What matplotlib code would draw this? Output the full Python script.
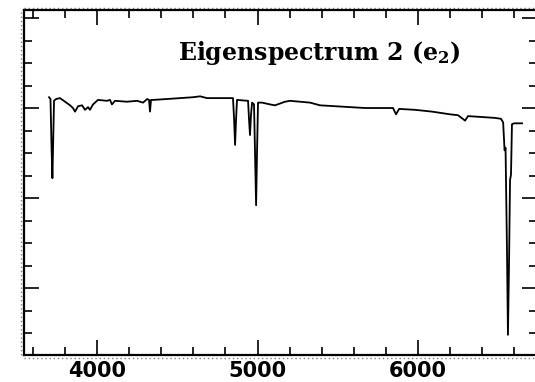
import numpy as np
import matplotlib
matplotlib.use("Agg")
import matplotlib.pyplot as plt
from matplotlib.ticker import MultipleLocator, NullFormatter
from matplotlib.lines import Line2D

# wavelength (Angstrom) and eigenspectrum flux
wave = [3701, 3710, 3717, 3722, 3727, 3732, 3745, 3769, 3801, 3832,
        3850, 3863, 3882, 3907, 3925, 3944, 3956, 3975, 4006, 4062,
        4081, 4093, 4112, 4187, 4249, 4287, 4312, 4324, 4330, 4336,
        4349, 4436, 4517, 4598, 4642, 4685, 4766, 4847, 4854, 4860,
        4866, 4872, 4941, 4947, 4953, 4959, 4966, 4978, 4984, 4991,
        4997, 5003, 5028, 5078, 5109, 5171, 5202, 5265, 5327, 5389,
        5483, 5576, 5670, 5763, 5844, 5863, 5882, 5981, 6087, 6199,
        6249, 6293, 6311, 6399, 6480, 6517, 6530, 6539, 6545, 6554,
        6560, 6567, 6573, 6579, 6585, 6598, 6648]
flux = [0.212, 0.210, 0.153, 0.122, 0.164, 0.208, 0.210, 0.211, 0.207, 0.203,
        0.200, 0.196, 0.202, 0.203, 0.198, 0.201, 0.198, 0.204, 0.209, 0.208,
        0.209, 0.204, 0.208, 0.207, 0.208, 0.206, 0.210, 0.209, 0.196, 0.209,
        0.209, 0.210, 0.211, 0.212, 0.213, 0.211, 0.211, 0.211, 0.187, 0.159,
        0.187, 0.209, 0.208, 0.187, 0.170, 0.192, 0.206, 0.204, 0.153, 0.092,
        0.153, 0.206, 0.206, 0.204, 0.203, 0.207, 0.208, 0.207, 0.206, 0.203,
        0.202, 0.201, 0.200, 0.200, 0.200, 0.193, 0.199, 0.198, 0.196, 0.193,
        0.192, 0.186, 0.191, 0.190, 0.189, 0.188, 0.184, 0.153, 0.156, 0.042,
        -0.052, 0.031, 0.120, 0.126, 0.182, 0.183, 0.183]

xticks = [4000, 5000, 6000]

plt.rcParams['mathtext.fontset'] = 'dejavuserif'

fig = plt.figure(figsize=(5.35, 3.82), dpi=100)
# right edge of the frame falls just outside the picture, as in the scan
ax = fig.add_axes([24/535, 27/382, 513/535, 345/382])

ax.plot(wave, flux, color='black', lw=1.3)

ax.set_xlim(3545, 6741)
ax.set_ylim(-0.0744, 0.3089)

ax.xaxis.set_major_locator(MultipleLocator(1000))
ax.xaxis.set_minor_locator(MultipleLocator(200))
ax.yaxis.set_major_locator(MultipleLocator(0.1))
ax.yaxis.set_minor_locator(MultipleLocator(0.025))
ax.yaxis.set_major_formatter(NullFormatter())
ax.set_xticks(xticks)
ax.set_xticklabels([str(t) for t in xticks])

ax.tick_params(which='both', direction='in', top=True, right=True, width=1.2, color='black')
ax.tick_params(which='major', length=11, pad=4, labelsize=15)
ax.tick_params(which='minor', length=6)
for lab in ax.get_xticklabels():
    lab.set_fontweight('bold')

for s in ax.spines.values():
    s.set_linewidth(1.6)
    s.set_color('black')

# faint dotted border just outside the frame, as in the scanned figure
for xs, ys in [([0, 1], [-0.008, -0.008]), ([0, 1], [1.006, 1.006]), ([-0.006, -0.006], [0, 1])]:
    ax.add_line(Line2D(xs, ys, transform=ax.transAxes, color='gray', lw=1.0,
                       linestyle=(0, (1, 2)), clip_on=False))

ax.text(0.575, 0.855, r'Eigenspectrum 2 (e$_\mathbf{2}$)', transform=ax.transAxes,
        ha='center', va='baseline', fontsize=17, fontweight='bold', family='DejaVu Serif')

fig.savefig('out.png', dpi=100)
